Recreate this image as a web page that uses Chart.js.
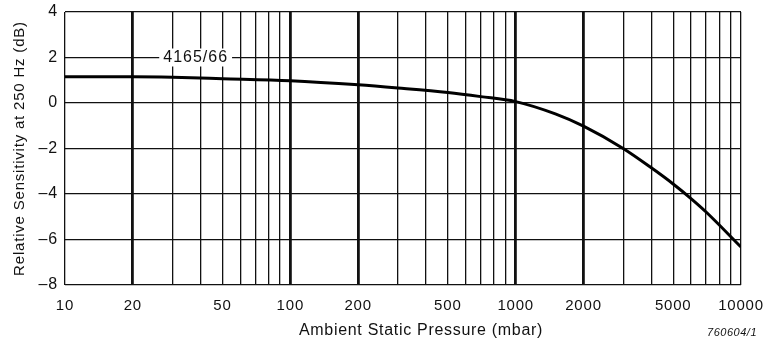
<!DOCTYPE html>
<html>
<head>
<meta charset="utf-8">
<script src="https://cdn.jsdelivr.net/npm/chart.js"></script>
<style>
  html, body { margin: 0; padding: 0; background: #fff; }
  #wrap { width: 764px; height: 345px; position: relative; }
</style>
</head>
<body>
<div id="wrap"><canvas id="myChart"></canvas></div>
<script>
// data
const pressure = [10, 20, 30, 50, 100, 200, 300, 500, 700, 1000, 1500, 2000, 3000, 4000, 5000, 6000, 7000, 10000];
const sensitivity = [1.15, 1.15, 1.13, 1.07, 0.98, 0.8, 0.66, 0.46, 0.28, 0.06, -0.48, -1.02, -2.0, -2.85, -3.56, -4.2, -4.79, -6.33];

// grid lines on x: every 1..9 of each decade, labels only on 1, 2, 5
const xGridValues = [];
for (let d = 10; d < 10000; d *= 10) {
  for (let m = 1; m < 10; m++) xGridValues.push(m * d);
}
xGridValues.push(10000);
const xTickLabels = [10, 20, 50, 100, 200, 500, 1000, 2000, 5000, 10000];
const heavyLines = [20, 100, 200, 1000, 2000];
const yTicks = [-8, -6, -4, -2, 0, 2, 4];

const curveLabel = { text: '4165/66', x: 38, y: 2 };
const xTitle = 'Ambient Static Pressure (mbar)';
const yTitle = 'Relative Sensitivity at 250 Hz (dB)';
const footnote = '760604/1';

const font = "'Liberation Sans', Arial, sans-serif";

// the printed lettering is a bit wider than Liberation Sans
const spacing = {
  id: 'spacing',
  beforeLayout(chart) { chart.ctx.letterSpacing = '0.8px'; },
  beforeDraw(chart) { chart.ctx.letterSpacing = '0.8px'; }
};

// extra text: curve label with white box, x title, drawing number
const extraText = {
  id: 'extraText',
  afterDatasetsDraw(chart) {
    const ctx = chart.ctx;
    const xs = chart.scales.x, ys = chart.scales.y;
    ctx.save();
    ctx.letterSpacing = '1px';
    ctx.font = '16px ' + font;
    ctx.textAlign = 'center';
    ctx.textBaseline = 'middle';
    const px = xs.getPixelForValue(curveLabel.x);
    const py = ys.getPixelForValue(curveLabel.y);
    const w = ctx.measureText(curveLabel.text).width;
    ctx.fillStyle = '#fff';
    ctx.fillRect(px - w / 2 - 4, py - 9, w + 8, 18);
    ctx.fillStyle = '#111';
    ctx.fillText(curveLabel.text, px, py);

    ctx.letterSpacing = '0.7px';
    ctx.font = '16px ' + font;
    ctx.fillText(xTitle, chart.chartArea.left + (chart.chartArea.right - chart.chartArea.left) / 2 + 18, 331);

    ctx.letterSpacing = '0.5px';
    ctx.font = 'italic 11px ' + font;
    ctx.textAlign = 'right';
    ctx.fillText(footnote, 757, 333);
    ctx.restore();
  }
};

const ctxChart = document.getElementById('myChart');

new Chart(ctxChart, {
  type: 'line',
  data: {
    datasets: [{
      data: pressure.map((p, i) => ({ x: p, y: sensitivity[i] })),
      borderColor: '#000',
      borderWidth: 3,
      pointRadius: 0,
      cubicInterpolationMode: 'monotone',
      fill: false
    }]
  },
  options: {
    responsive: true,
    maintainAspectRatio: false,
    animation: false,
    layout: { padding: { left: 0, right: 23, top: 12, bottom: 0 } },
    plugins: { legend: { display: false }, tooltip: { enabled: false } },
    scales: {
      x: {
        type: 'logarithmic',
        min: 10,
        max: 10000,
        afterBuildTicks(scale) {
          scale.ticks = xGridValues.map(v => ({ value: v }));
        },
        afterFit(scale) {
          scale.height = 60;
          scale.paddingLeft = 0;
          scale.paddingRight = 0;
        },
        ticks: {
          autoSkip: false,
          maxRotation: 0,
          padding: 12,
          color: '#111',
          font: { family: font, size: 15 },
          callback(value) {
            return xTickLabels.includes(value) ? String(value) : '';
          }
        },
        grid: {
          color: '#111',
          drawTicks: false,
          lineWidth(c) {
            const v = c.tick && c.tick.value;
            return heavyLines.includes(v) ? 2.8 : 1.3;
          }
        },
        border: { display: false }
      },
      y: {
        min: -8,
        max: 4,
        afterBuildTicks(scale) {
          scale.ticks = yTicks.map(v => ({ value: v }));
        },
        afterFit(scale) {
          scale.width = 65;
          scale.paddingTop = 0;
          scale.paddingBottom = 0;
        },
        ticks: {
          padding: 7,
          color: '#111',
          font: { family: font, size: 16 },
          callback(value) {
            return value < 0 ? '\u2013' + Math.abs(value) : String(value);
          }
        },
        title: {
          display: true,
          text: yTitle,
          color: '#111',
          font: { family: font, size: 15 },
          padding: { top: 11, bottom: 4 }
        },
        grid: { color: '#111', lineWidth: 1.3, drawTicks: false },
        border: { display: false }
      }
    }
  },
  plugins: [spacing, extraText]
});
</script>
</body>
</html>
